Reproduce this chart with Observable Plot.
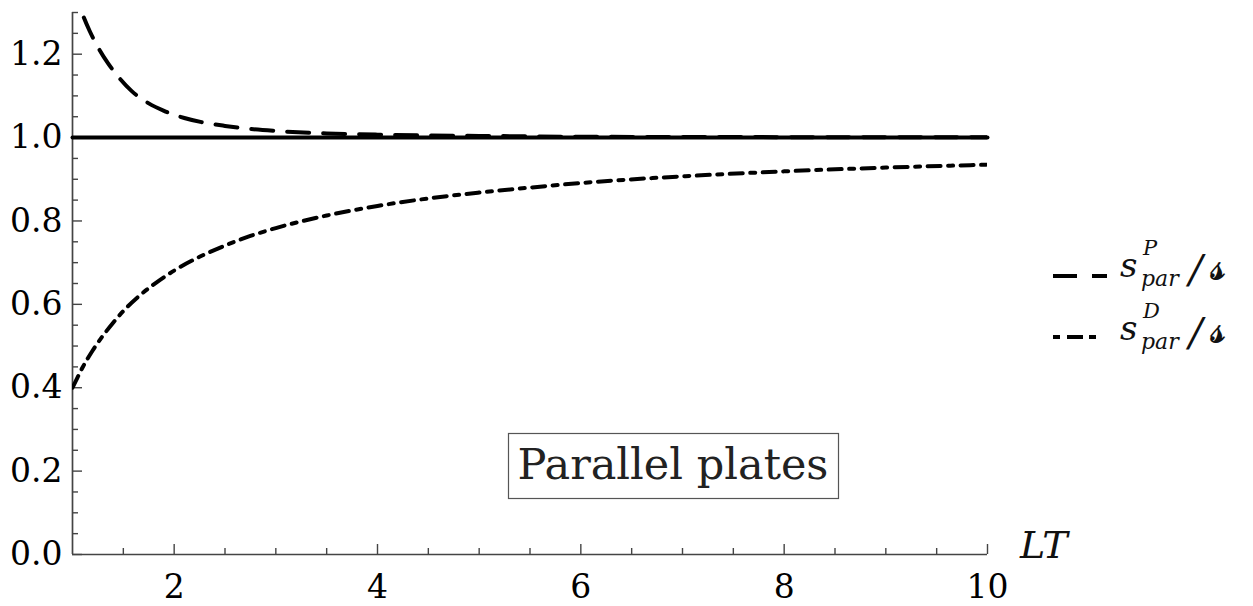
<!DOCTYPE html>
<html><head><meta charset="utf-8">
<script src="https://cdn.jsdelivr.net/npm/d3@7"></script>
<script src="https://cdn.jsdelivr.net/npm/@observablehq/plot@0.6"></script>
</head><body style="margin:0">
<div id="wrap"></div>
<script>
// Data
const xP = [1, 1.05, 1.1, 1.17, 1.25, 1.35, 1.45, 1.58, 1.75, 1.9, 2.1, 2.27, 2.5, 2.66, 3, 3.5, 4, 4.5, 5, 6, 7, 8, 9, 10];
const yP = [1.37, 1.33, 1.295, 1.255, 1.217, 1.178, 1.146, 1.112, 1.082, 1.064, 1.047, 1.037, 1.028, 1.023, 1.016, 1.010, 1.007, 1.005, 1.004, 1.002, 1.0015, 1.001, 1.0007, 1.0005];
const xD = [1, 1.05, 1.1, 1.2, 1.3, 1.4, 1.5, 1.65, 1.8, 2, 2.25, 2.5, 2.75, 3, 3.5, 4, 4.5, 5, 5.5, 6, 7, 8, 9, 10];
const yD = [0.40, 0.425, 0.449, 0.490, 0.525, 0.556, 0.584, 0.619, 0.648, 0.681, 0.714, 0.741, 0.764, 0.783, 0.813, 0.836, 0.854, 0.868, 0.880, 0.891, 0.907, 0.919, 0.928, 0.935];
const xRef = [1, 10];
const yRef = [1, 1];
const xMajor = [2, 4, 6, 8, 10];
const xMinor = [1.5, 2.5, 3, 3.5, 4.5, 5, 5.5, 6.5, 7, 7.5, 8.5, 9, 9.5];
const yMajor = [0, 0.2, 0.4, 0.6, 0.8, 1.0, 1.2];
const yMinor = [0.05, 0.1, 0.15, 0.25, 0.3, 0.35, 0.45, 0.5, 0.55, 0.65, 0.7, 0.75, 0.85, 0.9, 0.95, 1.05, 1.1, 1.15, 1.25, 1.3];
const seriesLabels = ["P", "D"];
const annotation = "Parallel plates";
const xLabel = "LT";

const W = 1253, H = 606;
const mL = 72, mR = 266, mT = 12, mB = 52;
const innerW = W - mL - mR, innerH = H - mT - mB;
const axisColor = "#444";
const serif = "DejaVu Serif";

const dataP = xP.map((x, i) => ({x, y: yP[i]}));
const dataD = xD.map((x, i) => ({x, y: yD[i]}));
const dataRef = xRef.map((x, i) => ({x, y: yRef[i]}));

const chart = Plot.plot({
  width: W, height: H,
  marginLeft: mL, marginRight: mR, marginTop: mT, marginBottom: mB,
  x: {domain: [1, 10]},
  y: {domain: [0, 1.3]},
  style: {fontFamily: serif},
  marks: [
    Plot.axisY(yMajor, {tickSize: 0, tickPadding: 10, fontSize: 33, fontFamily: serif, tickFormat: d3.format(".1f"), label: null}),
    Plot.axisX(xMajor, {tickSize: 0, tickPadding: 20, fontSize: 33, fontFamily: serif, label: null}),
    Plot.tickX(xMajor, {x: d => d, insetTop: innerH - 10, stroke: axisColor, strokeWidth: 1.4}),
    Plot.tickX(xMinor, {x: d => d, insetTop: innerH - 6, stroke: axisColor, strokeWidth: 1.4}),
    Plot.tickY(yMajor, {y: d => d, insetRight: innerW - 10, stroke: axisColor, strokeWidth: 1.4}),
    Plot.tickY(yMinor, {y: d => d, insetRight: innerW - 6, stroke: axisColor, strokeWidth: 1.4}),
    Plot.ruleX([1], {stroke: axisColor, strokeWidth: 1.7}),
    Plot.ruleY([0], {x1: 1, x2: 10, stroke: axisColor, strokeWidth: 1.7}),
    Plot.line(dataRef, {x: "x", y: "y", stroke: "black", strokeWidth: 4}),
    Plot.line(dataD, {x: "x", y: "y", stroke: "black", strokeWidth: 4, strokeDasharray: "13,7.5,5,7.5", curve: "monotone-x", clip: true}),
    Plot.line(dataP, {x: "x", y: "y", stroke: "black", strokeWidth: 4, strokeDasharray: "22,14", curve: "monotone-x", clip: true})
  ]
});

document.getElementById("wrap").appendChild(chart);

// Annotation box, legend and axis label drawn into the same svg
const ns = "http://www.w3.org/2000/svg";
const g = document.createElementNS(ns, "g");
g.setAttribute("text-anchor", "start");
chart.appendChild(g);

function el(tag, attrs, text) {
  const e = document.createElementNS(ns, tag);
  for (const k in attrs) e.setAttribute(k, attrs[k]);
  if (tag === "text") { e.setAttribute("font-family", serif); e.setAttribute("text-anchor", attrs["text-anchor"] || "start"); }
  if (text != null) e.textContent = text;
  g.appendChild(e);
  return e;
}

// x-axis label
el("text", {x: 1020, y: 558, "font-size": 38, "font-style": "italic", fill: "#111"}, xLabel);

// annotation box
el("rect", {x: 508.5, y: 433.5, width: 330, height: 65, fill: "white", stroke: "#555", "stroke-width": 1.2});
el("text", {x: 673, y: 479, "font-size": 43, "text-anchor": "middle", fill: "#222"}, annotation);

// legend samples
el("line", {x1: 1053, x2: 1077, y1: 276, y2: 276, stroke: "black", "stroke-width": 4});
el("line", {x1: 1092, x2: 1107, y1: 276, y2: 276, stroke: "black", "stroke-width": 4});
el("line", {x1: 1053, x2: 1060, y1: 337, y2: 337, stroke: "black", "stroke-width": 4});
el("line", {x1: 1067, x2: 1083, y1: 337, y2: 337, stroke: "black", "stroke-width": 4});
el("line", {x1: 1089, x2: 1096, y1: 337, y2: 337, stroke: "black", "stroke-width": 4});

// legend labels
const rows = [{sup: seriesLabels[0], base: 277}, {sup: seriesLabels[1], base: 340}];
for (const r of rows) {
  el("text", {x: 1120, y: r.base, "font-size": 34, "font-style": "italic", fill: "#111"}, "s");
  el("text", {x: 1143, y: r.base - 22, "font-size": 21, "font-style": "italic", fill: "#111"}, r.sup);
  el("text", {x: 1141, y: r.base + 9, "font-size": 22, "font-style": "italic", fill: "#111"}, "par");
  el("text", {x: 1189, y: r.base + 6, "font-size": 40, "font-style": "italic", fill: "#111"}, "/");
  el("text", {x: 1210, y: r.base + 2, "font-size": 40, fill: "#111"}, "𝓼");
}
</script>
</body>
</html>
